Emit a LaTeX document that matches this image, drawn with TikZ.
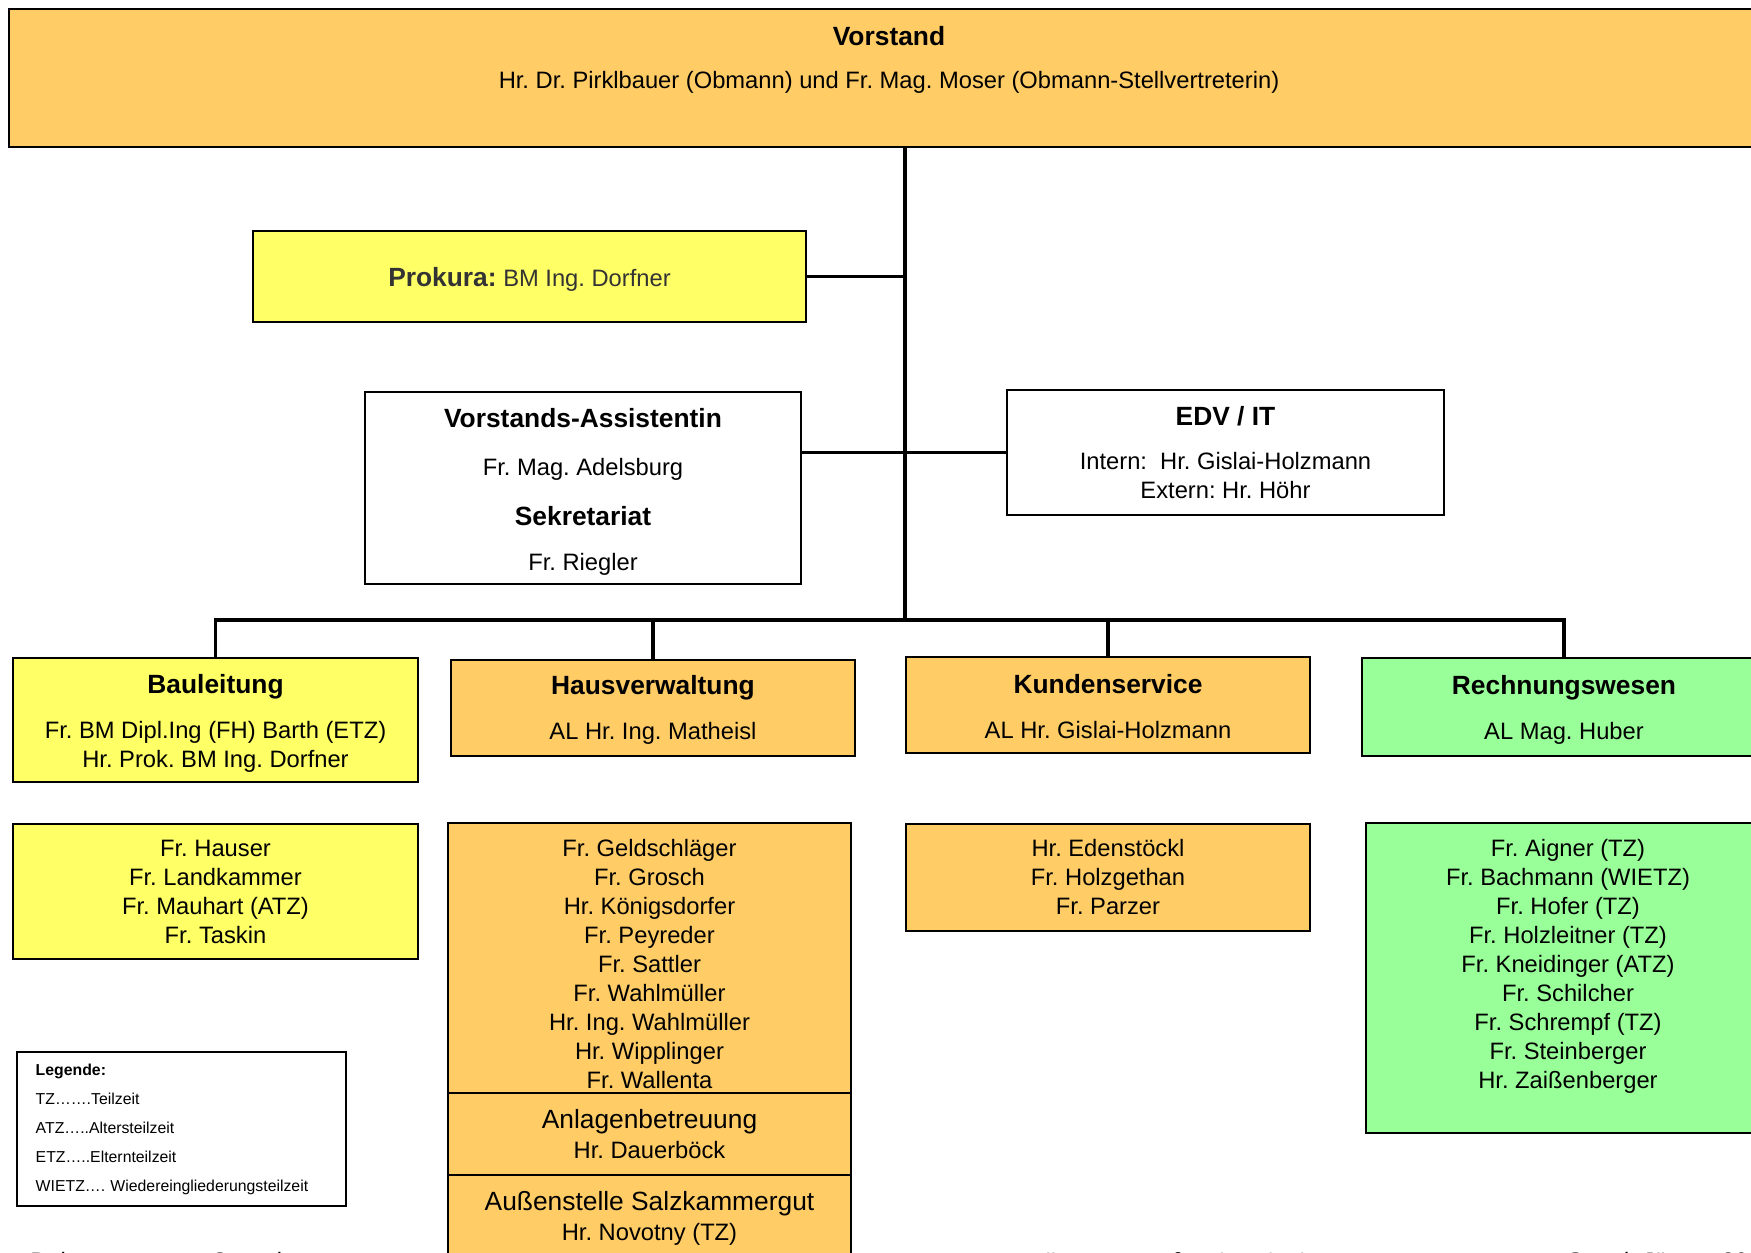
\documentclass[tikz,border=0pt]{standalone}
\usepackage{fontspec}
\setmainfont{Liberation Sans}
\usepackage{xcolor}
\usetikzlibrary{positioning,calc}

\definecolor{orangefill}{HTML}{FFCC66}
\definecolor{yellowfill}{HTML}{FFFF66}
\definecolor{greenfill}{HTML}{99FF99}
\definecolor{textgrey}{HTML}{333333}

\frenchspacing
\newcommand{\unitTitle}[1]{{\fontsize{15}{16.5}\selectfont\bfseries #1}}
\newcommand{\bigLine}[1]{{\fontsize{15}{16.5}\selectfont #1}}
\newcommand{\topGap}[1]{\rule{0pt}{#1}}

\begin{document}
\begin{tikzpicture}[
      x = 0.2mm,
      y = -0.2mm
    ]
    \tikzstyle{my line} = [line width=2pt]
    \tikzstyle{org box} = [rectangle, draw, line width=1pt, align=center, inner sep=0pt,
                           font=\fontsize{13.5}{16.5}\selectfont]
    \tikzstyle{foot text} = [anchor=north west, inner sep=0pt, font=\fontsize{13.5}{16.5}\selectfont]
    \clip (0,0) rectangle (1751,1253);
    \fill[white] (0,0) rectangle (1751,1253);

    % Vorstand
    \node[org box, fill=orangefill, minimum width=352mm, minimum height=27.6mm] (vorstand) at (889,78) {};
    \node[org box, draw=none] (vorstandtext) at (889,60)
      {\unitTitle{Vorstand}\\[8pt]Hr. Dr. Pirklbauer (Obmann) und Fr. Mag. Moser (Obmann-Stellvertreterin)};

    % Stabsstellen
    \node[org box, fill=yellowfill, text=textgrey, minimum width=110.6mm, minimum height=18.2mm] (prokura) at (529.5,276.5)
      {\topGap{14pt}\unitTitle{Prokura:} BM Ing. Dorfner};
    \node[org box, fill=white, minimum width=87.2mm, minimum height=38.4mm] (assist) at (583,488)
      {\topGap{15.5pt}\unitTitle{Vorstands-Assistentin}\\[11pt]Fr. Mag. Adelsburg\\[12pt]\unitTitle{Sekretariat}\\[9pt]Fr. Riegler};
    \node[org box, fill=white, minimum width=87.4mm, minimum height=25mm] (edv) at (1225.5,452.5)
      {\unitTitle{EDV / IT}\\[8.5pt]Intern:~ Hr. Gislai-Holzmann\\Extern: Hr. Höhr};

    % Abteilungen
    \node[org box, fill=yellowfill, minimum width=81mm, minimum height=24.8mm] (bau) at (215.5,720)
      {\topGap{14.5pt}\unitTitle{Bauleitung}\\[9pt]Fr. BM Dipl.Ing (FH) Barth (ETZ)\\Hr. Prok. BM Ing. Dorfner};
    \node[org box, fill=orangefill, minimum width=80.8mm, minimum height=19.2mm] (hv) at (653,708)
      {\topGap{13pt}\unitTitle{Hausverwaltung}\\[9pt]AL Hr. Ing. Matheisl};
    \node[org box, fill=orangefill, minimum width=80.8mm, minimum height=19.2mm] (ks) at (1108,705)
      {\topGap{13pt}\unitTitle{Kundenservice}\\[9pt]AL Hr. Gislai-Holzmann};
    \node[org box, fill=greenfill, minimum width=80.8mm, minimum height=19.6mm] (rw) at (1564,707)
      {\topGap{14pt}\unitTitle{Rechnungswesen}\\[9pt]AL Mag. Huber};

    % Mitarbeiter
    \node[org box, fill=yellowfill, minimum width=81mm, minimum height=27mm] (baustaff) at (215.5,891.5)
      {Fr. Hauser\\Fr. Landkammer\\Fr. Mauhart (ATZ)\\Fr. Taskin};
    \node[org box, fill=orangefill, minimum width=80.6mm, minimum height=54mm] (hvstaff) at (649.5,958)
      {\topGap{17pt}Fr. Geldschläger\\Fr. Grosch\\Hr. Königsdorfer\\Fr. Peyreder\\Fr. Sattler\\Fr. Wahlmüller\\Hr. Ing. Wahlmüller\\Hr. Wipplinger\\Fr. Wallenta};
    \node[org box, fill=orangefill, minimum width=80.6mm, minimum height=16.4mm] (anlagen) at (649.5,1134)
      {\bigLine{Anlagenbetreuung}\\[1pt]Hr. Dauerböck};
    \node[org box, fill=orangefill, minimum width=80.6mm, minimum height=17.4mm] (aussen) at (649.5,1218.5)
      {\bigLine{Außenstelle Salzkammergut}\\[1pt]Hr. Novotny (TZ)};
    \node[org box, fill=orangefill, minimum width=80.8mm, minimum height=21.4mm] (ksstaff) at (1108,877.5)
      {Hr. Edenstöckl\\Fr. Holzgethan\\Fr. Parzer};
    \node[org box, fill=greenfill, minimum width=80.8mm, minimum height=62mm] (rwstaff) at (1568,978) {};
    \node[org box, draw=none] (rwstafftext) at (1568,966)
      {Fr. Aigner (TZ)\\Fr. Bachmann (WIETZ)\\Fr. Hofer (TZ)\\Fr. Holzleitner (TZ)\\Fr. Kneidinger (ATZ)\\Fr. Schilcher\\Fr. Schrempf (TZ)\\Fr. Steinberger\\Hr. Zaißenberger};

    % Legende
    \node[org box, align=left, text width=58.3mm, inner xsep=3.8mm, minimum height=30.8mm,
          font=\fontsize{9}{16.5}\selectfont] (legende) at (181.5,1129)
      {\textbf{Legende:}\\TZ…….Teilzeit\\ATZ…..Altersteilzeit\\ETZ…..Elternteilzeit\\WIETZ…. Wiedereingliederungsteilzeit};

    % Fusszeile
    \node[foot text] (footleft) at (30,1252) {Dokumentname: Organigramm};
    \node[foot text] (footmid) at (990,1252) {Erstellt von: Mag.\textsuperscript{a} Anita Riegler};
    \node[foot text] (footright) at (1567,1252) {Stand: Jänner 2021};

    % Verbindungen
    \coordinate (bus) at (905,620);
    \draw[my line] (vorstand.south -| bus) -- (bus);
    \draw[my line] (prokura.east) -- (prokura.east -| bus);
    \draw[my line] (edv.west -| assist.east) -- (edv.west);
    \draw[my line] (bau.north) -- (bau.north |- bus) -- (rw.north |- bus) -- (rw.north);
    \draw[my line] (hv.north) -- (hv.north |- bus);
    \draw[my line] (ks.north) -- (ks.north |- bus);
  \end{tikzpicture}
\end{document}
